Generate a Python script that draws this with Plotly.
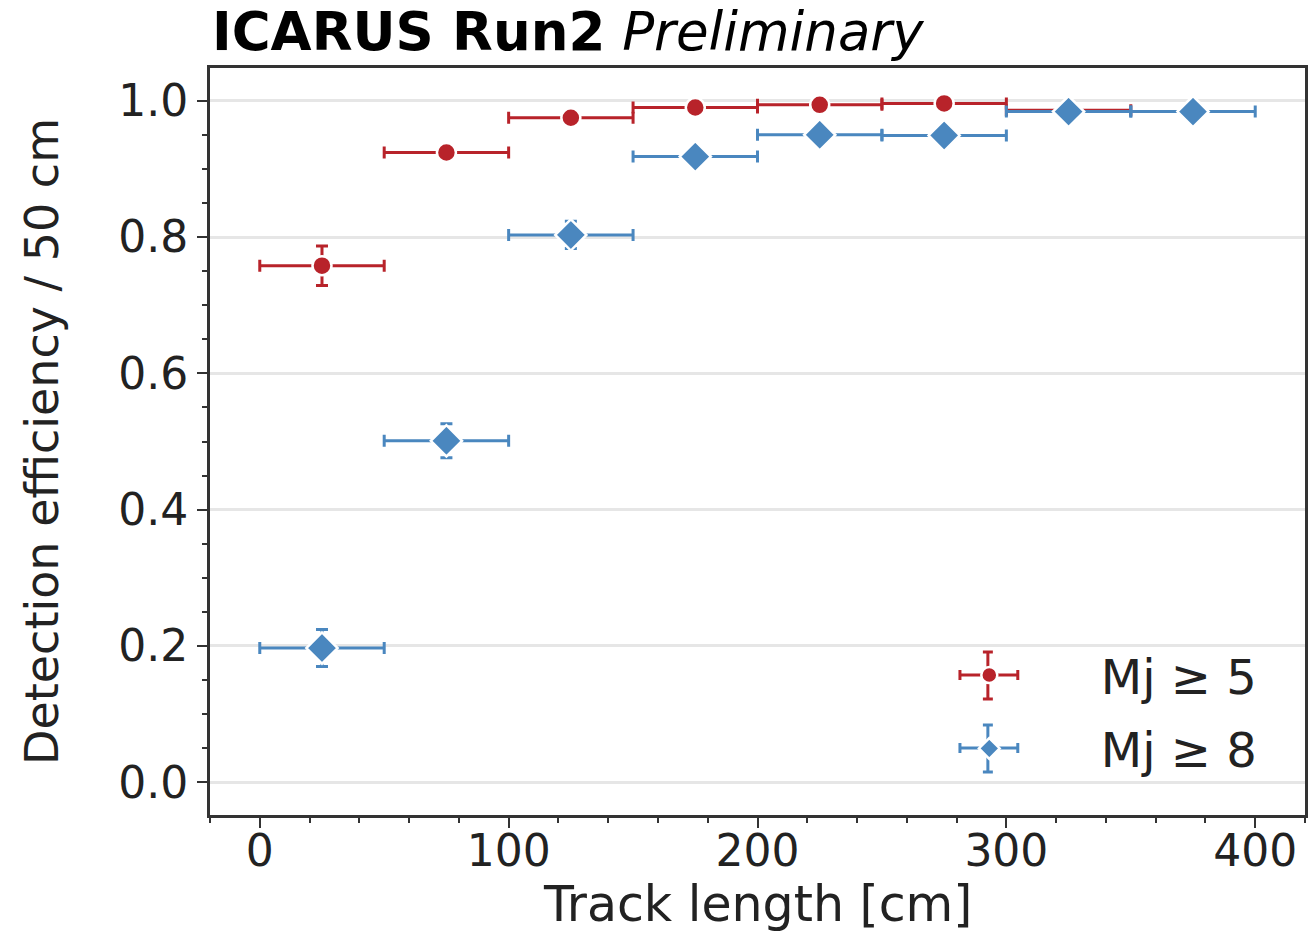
import plotly.graph_objects as go

# Bin centres (cm) and half-widths
x_red = [25, 75, 125, 175, 225, 275, 325]
y_red = [0.758, 0.924, 0.975, 0.990, 0.994, 0.996, 0.986]
ey_red = [0.029, 0.010, 0.007, 0.005, 0.004, 0.003, 0.005]

x_blue = [25, 75, 125, 175, 225, 275, 325, 375]
y_blue = [0.197, 0.501, 0.803, 0.918, 0.950, 0.949, 0.984, 0.984]
ey_blue = [0.027, 0.025, 0.020, 0.008, 0.006, 0.006, 0.005, 0.012]

half_width = 25

RED = "#b8232a"
BLUE = "#4a87bf"
PAD = "\u00a0" * 6

# figure geometry (pixels) used to place the legend decoration
W, H = 1311, 935
ML, MR, MT, MB = 210, 3, 68, 120
PW, PH = W - ML - MR, H - MT - MB


def px(xp):
    return (xp - ML) / PW


def py(yp):
    return (H - MB - yp) / PH


fig = go.Figure()

fig.add_trace(go.Scatter(
    x=x_red, y=y_red, mode="markers", name=PAD + "Mj ≥ 5", legendgroup="a",
    marker=dict(symbol="circle", size=19, color=RED, line=dict(color="white", width=2.5)),
    error_x=dict(type="constant", value=half_width, color=RED, thickness=3, width=6),
    error_y=dict(type="data", array=ey_red, color=RED, thickness=3, width=6),
))
fig.add_trace(go.Scatter(
    x=x_blue, y=y_blue, mode="markers", name=PAD + "Mj ≥ 8", legendgroup="b",
    marker=dict(symbol="diamond", size=24, color=BLUE, line=dict(color="white", width=2.5)),
    error_x=dict(type="constant", value=half_width, color=BLUE, thickness=3, width=6),
    error_y=dict(type="data", array=ey_blue, color=BLUE, thickness=3, width=6),
))

# legend glyph error crosses
for (cx, cy, col) in [(990, 675, RED), (990, 748, BLUE)]:
    segs = [
        (cx - 28, cy, cx + 30, cy),          # horizontal bar
        (cx, cy - 23, cx, cy + 24),          # vertical bar
        (cx - 28, cy - 5, cx - 28, cy + 5),  # caps
        (cx + 30, cy - 5, cx + 30, cy + 5),
        (cx - 5, cy - 23, cx + 5, cy - 23),
        (cx - 5, cy + 24, cx + 5, cy + 24),
    ]
    for x0, y0, x1, y1 in segs:
        fig.add_shape(type="line", xref="paper", yref="paper",
                      x0=px(x0), y0=py(y0), x1=px(x1), y1=py(y1),
                      line=dict(color=col, width=3), layer="above")

axis_common = dict(
    showline=True, linecolor="#333333", linewidth=3, mirror=True,
    ticks="outside", tickwidth=2, tickcolor="#333333",
    zeroline=False,
)

fig.update_xaxes(
    range=[-20, 420], tickmode="array", tickvals=[0, 100, 200, 300, 400],
    showgrid=False, ticklen=10, ticklabelstandoff=-15,
    tickfont=dict(family="DejaVu Sans", size=44, color="#222222"),
    minor=dict(dtick=20, ticks="outside", ticklen=5, tickwidth=2, tickcolor="#333333", showgrid=False),
    **axis_common,
)
fig.update_yaxes(
    range=[-0.048, 1.048], tickmode="array", tickvals=[0, 0.2, 0.4, 0.6, 0.8, 1.0],
    ticktext=["0.0", "0.2", "0.4", "0.6", "0.8", "1.0"],
    showgrid=True, gridcolor="#e6e6e6", gridwidth=3, ticklen=10,
    tickfont=dict(family="DejaVu Sans", size=44, color="#222222"),
    minor=dict(dtick=0.05, ticks="outside", ticklen=5, tickwidth=2, tickcolor="#333333", showgrid=False),
    title=dict(text="Detection efficiency / 50 cm", font=dict(family="DejaVu Sans", size=46, color="#222222"), standoff=46),
    **axis_common,
)

fig.add_annotation(
    xref="paper", yref="paper", x=0.5, y=py(H), xanchor="center", yanchor="bottom",
    yshift=0, text="Track length [cm]", showarrow=False,
    font=dict(family="DejaVu Sans", size=49, color="#222222"),
)

fig.add_annotation(
    xref="paper", yref="paper", x=0.0, y=1.0, xanchor="left", yanchor="bottom",
    xshift=0, yshift=4,
    text="<b>ICARUS Run2</b> <i>Preliminary</i>",
    showarrow=False, font=dict(family="DejaVu Sans", size=53, color="black"),
)

fig.update_layout(
    width=W, height=H,
    margin=dict(l=ML, r=MR, t=MT, b=MB),
    paper_bgcolor="white", plot_bgcolor="white",
    showlegend=True,
    legend=dict(
        x=0.961, y=0.0383, xanchor="right", yanchor="bottom",
        bgcolor="rgba(255,255,255,0)",
        font=dict(family="DejaVu Sans", size=48, color="#222222"),
        itemsizing="trace", tracegroupgap=8,
    ),
)

fig.write_html("out.html")
